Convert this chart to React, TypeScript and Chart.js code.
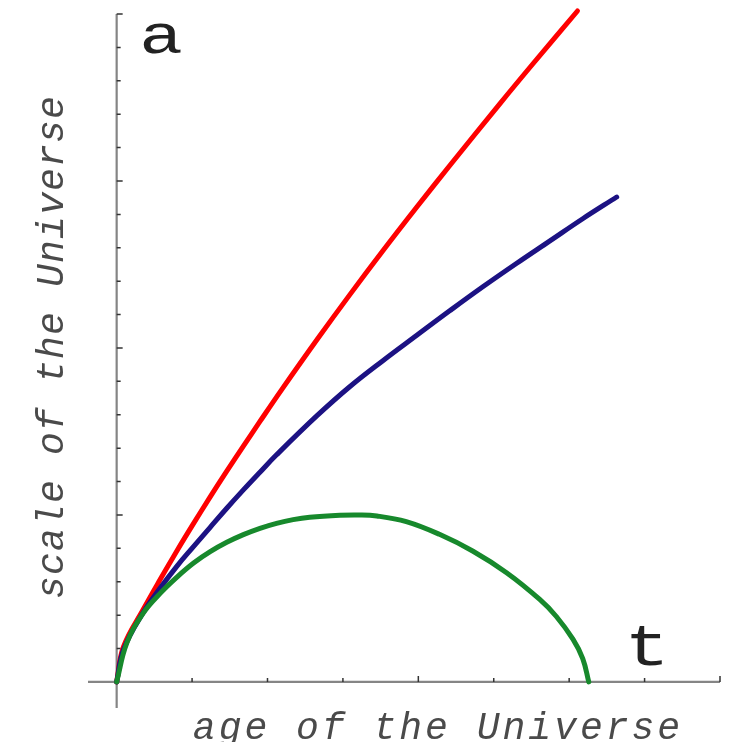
import React, { useEffect, useRef } from "react";
import { Chart, registerables } from "chart.js";

Chart.register(...registerables);

// ---- data ----
const redT = [0, 0.09, 0.35, 0.58, 0.8, 1.01, 1.24, 1.46, 1.68, 1.9, 2.2, 2.66, 3.09, 3.53, 3.98, 4.42, 5.08, 5.52, 6.11];
const redA = [0, 1.05, 2.16, 3.08, 3.93, 4.71, 5.54, 6.31, 7.06, 7.8, 8.79, 10.26, 11.59, 12.91, 14.22, 15.47, 17.31, 18.51, 20.09];

const blueT = [0, 0.09, 0.35, 0.58, 0.8, 1.01, 1.24, 1.46, 1.68, 1.9, 2.12, 2.66, 3.09, 3.53, 3.98, 4.42, 4.86, 5.3, 5.74, 6.18, 6.63];
const blueA = [0, 0.96, 2.07, 2.82, 3.47, 4.03, 4.63, 5.2, 5.75, 6.28, 6.8, 7.98, 8.84, 9.62, 10.38, 11.12, 11.84, 12.53, 13.2, 13.87, 14.52];

const greenT = [0, 0.135, 0.355, 0.58, 0.8, 1.02, 1.24, 1.46, 1.68, 1.9, 2.12, 2.34, 2.56, 2.96, 3.2, 3.45, 3.84, 4.28, 4.72, 5.17, 5.61, 5.83, 6.05, 6.18, 6.26];
const greenA = [0, 1.17, 2.07, 2.66, 3.14, 3.56, 3.9, 4.18, 4.41, 4.6, 4.75, 4.86, 4.93, 4.99, 5.0, 4.97, 4.8, 4.42, 3.92, 3.27, 2.47, 1.96, 1.28, 0.7, 0];

const xTicks = [1, 2, 3, 4, 5, 6, 7, 8];
const xMajorTicks = [4, 8];
const yTicks = [1, 2, 3, 4, 5, 6, 7, 8, 9, 10, 11, 12, 13, 14, 15, 16, 17, 18, 19, 20];
const yMajorTicks = [5, 10, 15, 20];

const xTitle = "age of the Universe";
const yTitle = "scale of the Universe";
const yAxisLetter = "a";
const xAxisLetter = "t";

const toPoints = (xs: number[], ys: number[]) => xs.map((v, i) => ({ x: v, y: ys[i] }));

const crossAxesPlugin = {
  id: "crossAxes",
  beforeDatasetsDraw(chart: any) {
    const { ctx, chartArea } = chart;
    const xs = chart.scales.x;
    const ys = chart.scales.y;
    const x0 = xs.getPixelForValue(0);
    const y0 = ys.getPixelForValue(0);
    ctx.save();
    ctx.strokeStyle = "#858585";
    ctx.lineWidth = 2.2;
    ctx.beginPath();
    ctx.moveTo(chartArea.left, y0);
    ctx.lineTo(chartArea.right, y0);
    ctx.moveTo(x0, chartArea.top);
    ctx.lineTo(x0, chartArea.bottom);
    ctx.stroke();

    ctx.strokeStyle = "#333333";
    ctx.lineWidth = 1.5;
    ctx.beginPath();
    xTicks.forEach((v) => {
      const px = xs.getPixelForValue(v);
      const len = xMajorTicks.includes(v) ? 6 : 4;
      ctx.moveTo(px, y0);
      ctx.lineTo(px, y0 - len);
    });
    yTicks.forEach((v) => {
      const py = ys.getPixelForValue(v);
      const len = yMajorTicks.includes(v) ? 6 : 4;
      ctx.moveTo(x0, py);
      ctx.lineTo(x0 + len, py);
    });
    ctx.stroke();
    ctx.restore();
  },
  afterDatasetsDraw(chart: any) {
    const { ctx } = chart;
    ctx.save();
    // big axis letters
    ctx.fillStyle = "#222222";
    ctx.textAlign = "center";
    ctx.textBaseline = "alphabetic";
    ctx.font = "56px 'Liberation Mono', monospace";
    ctx.save();
    ctx.translate(161, 53);
    ctx.scale(1.3, 1);
    ctx.fillText(yAxisLetter, 0, 0);
    ctx.restore();
    ctx.font = "60px 'Liberation Mono', monospace";
    ctx.save();
    ctx.translate(647, 665);
    ctx.scale(1.25, 1);
    ctx.fillText(xAxisLetter, 0, 0);
    ctx.restore();

    // axis titles
    ctx.fillStyle = "#4a4a4a";
    ctx.font = "italic 38px 'Liberation Mono', monospace";
    (ctx as any).letterSpacing = "3px";
    ctx.fillText(xTitle, 438, 739);
    ctx.save();
    ctx.translate(63, 347);
    ctx.rotate(-Math.PI / 2);
    (ctx as any).letterSpacing = "1.2px";
    ctx.fillText(yTitle, 0, 0);
    ctx.restore();
    ctx.restore();
  },
};

export default function App() {
  const canvasRef = useRef<HTMLCanvasElement | null>(null);

  useEffect(() => {
    if (!canvasRef.current) return;
    const common = {
      showLine: true,
      fill: false,
      pointRadius: 0,
      borderWidth: 5,
      borderCapStyle: "round" as const,
      borderJoinStyle: "round" as const,
      tension: 0.4,
      clip: false as any,
    };
    const chart = new Chart(canvasRef.current, {
      type: "scatter",
      data: {
        datasets: [
          { ...common, label: "closed", data: toPoints(greenT, greenA), borderColor: "#17892c", backgroundColor: "#17892c" },
          { ...common, label: "flat", data: toPoints(blueT, blueA), borderColor: "#1c1283", backgroundColor: "#1c1283" },
          { ...common, label: "open", data: toPoints(redT, redA), borderColor: "#ff0000", backgroundColor: "#ff0000" },
        ],
      },
      options: {
        animation: false,
        responsive: false,
        events: [],
        layout: { padding: { left: 88, right: 14, top: 14, bottom: 34 } },
        plugins: { legend: { display: false }, tooltip: { enabled: false } },
        scales: {
          x: { type: "linear", display: false, min: -0.38, max: 8 },
          y: { type: "linear", display: false, min: -0.78, max: 20 },
        },
      },
      plugins: [crossAxesPlugin],
    });
    return () => chart.destroy();
  }, []);

  return (
    <div style={{ position: "fixed", left: 0, top: 0, width: 734, height: 742, background: "#ffffff" }}>
      <canvas ref={canvasRef} width={734} height={742} style={{ display: "block" }} />
    </div>
  );
}
